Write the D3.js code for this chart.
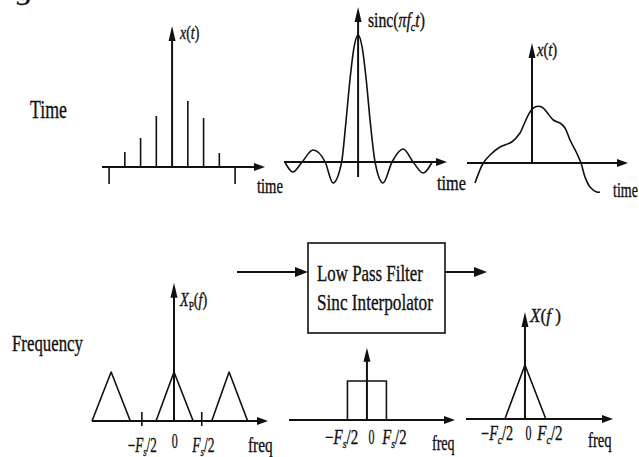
<!DOCTYPE html>
<html>
<head>
<meta charset="utf-8">
<script src="https://cdn.jsdelivr.net/npm/d3@7"></script>
<style>
  body { margin: 0; background: #fff; }
  svg { display: block; }
  text { font-family: "Liberation Serif", "Times New Roman", serif; fill: #111; stroke: #111; stroke-width: 0.35px; }
</style>
</head>
<body>
<div class="canvas"></div>
<script>
// ---- values ----
// sampled signal x(nT), n = -3..3 (n = 0 sits under the axis)
const sampleTimes = [-3, -2, -1, 1, 2, 3];
const sampleValues = [0.15, 0.29, 0.51, 0.66, 0.49, 0.14];
const timeTicks = [-4, 4];

// sinc kernel, read as points
const sincT = [-4.45, -3.96, -3.4, -2.74, -2.0, -1.52, -1.0, -0.75, -0.5, -0.25, 0,
               0.25, 0.5, 0.75, 1.03, 1.52, 2.06, 2.74, 3.34, 3.96, 4.5];
const sincV = [0, -0.079, 0, 0.094, 0, -0.165, 0, 0.30, 0.64, 0.90, 1,
               0.90, 0.64, 0.30, 0, -0.165, 0, 0.102, 0, -0.087, 0];

// reconstructed continuous signal
const signalT = [-5.7, -4.87, -4.2, -3.2, -2.03, -1.2, -0.7, -0.2, 0.3, 0.97, 1.47,
                 2.13, 2.8, 3.3, 3.8, 4.47, 4.9, 5.3, 5.8, 6.47, 6.8];
const signalV = [-0.20, 0, 0.08, 0.16, 0.21, 0.30, 0.41, 0.51, 0.56, 0.56, 0.51,
                 0.43, 0.40, 0.35, 0.23, 0.10, 0, -0.14, -0.24, -0.29, -0.29];

// periodic spectrum Xp(f), in units of Fs
const spectrumLow = [-1.37, -0.30, 0.63];
const spectrumPeak = [-1.05, 0, 0.92];
const spectrumHigh = [-0.73, 0.32, 1.23];
const spectrumTicks = [-0.537, 0.463];
const spectrumLabelPos = [-0.53, 0.013, 0.49];

// ideal low pass filter, in units of Fs
const passband = [-0.5, 0.5];
const filterLabelPos = [-0.65, 0.115, 0.705];

// recovered spectrum X(f), in units of Fc
const baseLow = -0.49, basePeak = 0, baseHigh = 0.51;
const baseLabelPos = [-0.68, 0.085, 0.61];

// tick labels
const labelsFs = [[["−", "n"], ["F", "i"], ["s", "s"], ["/2", "n"]], [["0", "n"]], [["F", "i"], ["s", "s"], ["/2", "n"]]];
const labelsFc = [[["−", "n"], ["F", "i"], ["c", "s"], ["/2", "n"]], [["0", "n"]], [["F", "i"], ["c", "s"], ["/2", "n"]]];

// ---- drawing ----
const W = 639, H = 457;
const ink = '#111';
const axisW = 2, markW = 1.6;

const svg = d3.select('.canvas').append('svg')
  .attr('width', W)
  .attr('height', H);

// line with a filled arrow head at (x2, y2)
function arrow(x1, y1, x2, y2, len, half) {
  const dx = x2 - x1, dy = y2 - y1, d = Math.hypot(dx, dy);
  const ux = dx / d, uy = dy / d;
  const bx = x2 - ux * len, by = y2 - uy * len;
  svg.append('line')
    .attr('x1', x1).attr('y1', y1)
    .attr('x2', bx + ux).attr('y2', by + uy)
    .attr('stroke', ink).attr('stroke-width', axisW);
  svg.append('path')
    .attr('d', `M${x2},${y2}L${bx - uy * half},${by + ux * half}L${bx + uy * half},${by - ux * half}Z`)
    .attr('fill', ink);
}

// text squeezed to the width it has in the figure
// kinds: n upright, i italic, s italic subscript, p upright subscript
function label(x, y, size, width, parts, anchor) {
  const t = svg.append('text')
    .attr('font-size', size)
    .attr('text-anchor', anchor || 'start');
  let down = false;
  parts.forEach(([s, k]) => {
    const sp = t.append('tspan').text(s);
    if (k === 'i' || k === 's') sp.attr('font-style', 'italic');
    if (k === 's' || k === 'p') {
      sp.attr('font-size', size * 0.66).attr('dy', size * 0.2);
      down = true;
    } else if (down) {
      sp.attr('dy', -size * 0.2);
      down = false;
    }
  });
  const w = t.node().getBBox().width;
  t.attr('transform', `translate(${x},${y}) scale(${width / w},1)`);
}

const path = (pts, x, y, curve) => d3.line()
  .x(d => x(d[0])).y(d => y(d[1]))
  .curve(curve || d3.curveLinear)(pts);

function drawPath(d, w) {
  svg.append('path').attr('d', d)
    .attr('fill', 'none').attr('stroke', ink)
    .attr('stroke-width', w || markW).attr('stroke-linejoin', 'round');
}

// row labels and the cut-off caption above
label(17, 0, 26, 16, [["g", "i"]]);
label(30, 118, 26, 37, [["Time", "n"]]);
label(12, 351, 24, 71, [["Frequency", "n"]]);

// panel 1: samples
{
  const x = d3.scaleLinear().domain([-4.45, 5.9]).range([102, 265]);
  const y = d3.scaleLinear().domain([0, 1]).range([167, 67]);
  svg.append('g').selectAll('line')
    .data(sampleTimes)
    .join('line')
      .attr('x1', d => x(d)).attr('x2', d => x(d))
      .attr('y1', y(0)).attr('y2', (d, i) => y(sampleValues[i]))
      .attr('stroke', ink).attr('stroke-width', markW);
  svg.append('g').selectAll('line')
    .data(timeTicks)
    .join('line')
      .attr('x1', d => x(d)).attr('x2', d => x(d))
      .attr('y1', y(0)).attr('y2', y(0) + 17)
      .attr('stroke', ink).attr('stroke-width', markW);
  arrow(x(-4.45), y(0), x(5.9), y(0), 11, 4);
  arrow(x(0), y(0), x(0), y(1.41), 15, 3.5);
  label(180, 39, 19, 20, [["x", "i"], ["(", "n"], ["t", "i"], [")", "n"]]);
  label(257, 193, 20, 26, [["time", "n"]]);
}

// panel 2: sinc kernel
{
  const x = d3.scaleLinear().domain([-4.5, 5.4]).range([284, 447]);
  const y = d3.scaleLinear().domain([0, 1]).range([162, 35]);
  arrow(x(-4.5), y(0), x(5.4), y(0), 11, 4);
  arrow(x(0), y(-0.118), x(0), y(1.22), 15, 3.5);
  drawPath(path(sincT.map((t, i) => [t, sincV[i]]), x, y, d3.curveMonotoneX));
  label(368, 27, 20, 57, [["sinc(", "n"], ["πf", "i"], ["c", "s"], ["t", "i"], [")", "n"]]);
  label(437, 190, 20, 29, [["time", "n"]]);
}

// panel 3: reconstructed signal
{
  const x = d3.scaleLinear().domain([-6.5, 9.6]).range([467, 628]);
  const y = d3.scaleLinear().domain([0, 1]).range([163, 63]);
  arrow(x(-6.5), y(0), x(9.6), y(0), 11, 4);
  arrow(x(0), y(0), x(0), y(1.2), 15, 3.5);
  drawPath(path(signalT.map((t, i) => [t, signalV[i]]), x, y, d3.curveCatmullRom.alpha(0.5)));
  label(537, 56, 19, 21, [["x", "i"], ["(", "n"], ["t", "i"], [")", "n"]]);
  label(613, 197, 20, 25, [["time", "n"]]);
}

// panel 4: periodic spectrum
{
  const x = d3.scaleLinear().domain([-1.37, 1.57]).range([92, 268]);
  const y = d3.scaleLinear().domain([0, 1]).range([421, 372]);
  spectrumPeak.forEach((p, i) =>
    drawPath(path([[spectrumLow[i], 0], [p, 1], [spectrumHigh[i], 0]], x, y)));
  svg.append('g').selectAll('line')
    .data(spectrumTicks)
    .join('line')
      .attr('x1', d => x(d)).attr('x2', d => x(d))
      .attr('y1', y(0) - 9).attr('y2', y(0) + 5)
      .attr('stroke', ink).attr('stroke-width', markW);
  arrow(x(-1.37), y(0), x(1.57), y(0), 11, 4);
  arrow(x(0), y(0), x(0), y(2.82), 15, 3.5);
  const widths = [29, 6, 23], base = [452, 448, 452];
  labelsFs.forEach((parts, i) => label(x(spectrumLabelPos[i]), base[i], 20, widths[i], parts, 'middle'));
  label(180, 306, 19, 28, [["X", "i"], ["P", "p"], ["(", "n"], ["f", "i"], [")", "n"]]);
  label(248, 452, 21, 25, [["freq", "n"]]);
}

// panel 5: filter block and its response
{
  svg.append('rect')
    .attr('x', 308).attr('y', 243).attr('width', 137).attr('height', 90)
    .attr('fill', 'none').attr('stroke', ink).attr('stroke-width', markW);
  label(317, 281, 24, 106, [["Low Pass Filter", "n"]]);
  label(317, 310, 24, 116, [["Sinc Interpolator", "n"]]);
  arrow(237, 272, 308, 272, 13, 5);
  arrow(445, 272, 487, 272, 13, 5);

  const x = d3.scaleLinear().domain([-2, 2.26]).range([289, 455]);
  const y = d3.scaleLinear().domain([0, 1]).range([420, 381]);
  drawPath(path([[passband[0], 0], [passband[0], 1], [passband[1], 1], [passband[1], 0]], x, y));
  arrow(x(-2), y(0), x(2.26), y(0), 11, 4);
  arrow(x(0), y(0), x(0), y(1.85), 14, 3.5);
  const widths = [33, 6, 25];
  labelsFs.forEach((parts, i) => label(x(filterLabelPos[i]), 444, 20, widths[i], parts, 'middle'));
  label(432, 450, 21, 23, [["freq", "n"]]);
}

// panel 6: recovered spectrum
{
  const x = d3.scaleLinear().domain([-1.44, 2.15]).range([466, 613]);
  const y = d3.scaleLinear().domain([0, 1]).range([419, 365]);
  drawPath(path([[baseLow, 0], [basePeak, 1], [baseHigh, 0]], x, y));
  arrow(x(-1.44), y(0), x(2.15), y(0), 11, 4);
  arrow(x(0), y(0), x(0), y(1.98), 15, 3.5);
  const widths = [32, 6, 26];
  labelsFc.forEach((parts, i) => label(x(baseLabelPos[i]), 440, 20, widths[i], parts, 'middle'));
  label(530, 322, 19, 32, [["X", "i"], ["(", "n"], ["f ", "i"], [")", "n"]]);
  label(588, 447, 21, 24, [["freq", "n"]]);
}
</script>
</body>
</html>
